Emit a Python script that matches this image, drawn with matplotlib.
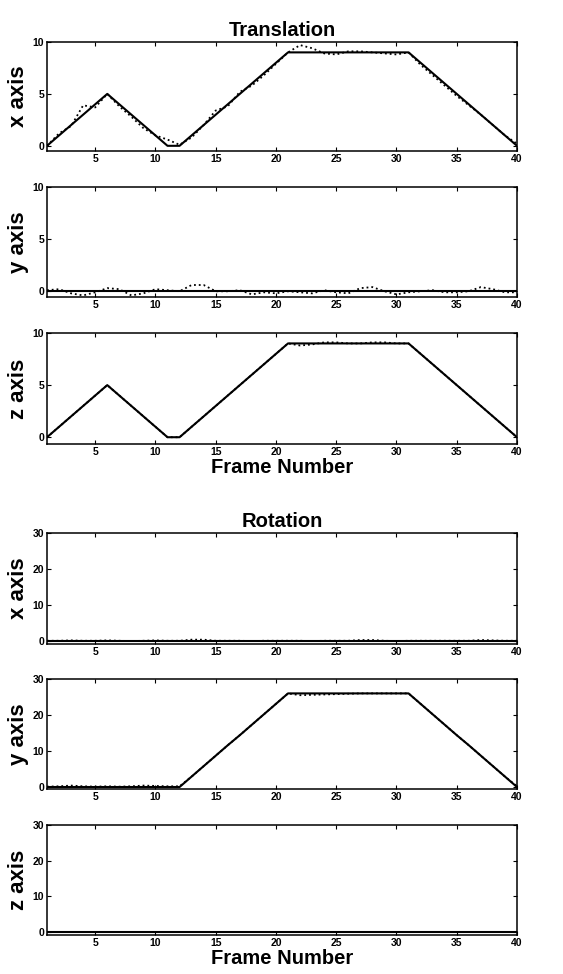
import matplotlib.pyplot as plt

plt.rcParams["font.family"] = ["Liberation Sans", "DejaVu Sans"]
plt.rcParams["font.weight"] = "bold"

# ---------------- data (frames 1..40) ----------------
frames = list(range(1, 41))

trans_x_true = [0, 1, 2, 3, 4, 5, 4, 3, 2, 1, 0, 0, 1, 2, 3, 4, 5, 6, 7, 8,
                9, 9, 9, 9, 9, 9, 9, 9, 9, 9, 9, 8, 7, 6, 5, 4, 3, 2, 1, 0]
trans_x_est = [0.0, 1.2, 1.9, 3.9, 3.7, 5.0, 3.8, 2.8, 1.7, 1.0, 0.6, 0.1, 0.8, 2.0, 3.4, 3.8, 5.2, 5.8, 6.8, 7.9,
               9.0, 9.7, 9.4, 8.9, 8.8, 9.1, 9.1, 9.0, 8.9, 8.8, 9.0, 7.8, 6.8, 5.8, 4.8, 3.9, 3.0, 2.0, 1.0, 0.2]

trans_y_true = [0] * 40
trans_y_est = [0.1, 0.2, -0.2, -0.4, -0.1, 0.3, 0.2, -0.4, -0.2, 0.2, 0.1, 0.0, 0.6, 0.6, 0.0, 0.0, 0.1, -0.3, -0.1, -0.2,
               0.0, -0.1, -0.2, 0.1, -0.1, -0.2, 0.3, 0.4, 0.0, -0.3, -0.1, 0.0, 0.1, -0.1, -0.1, 0.0, 0.4, 0.2, -0.1, -0.1]

trans_z_true = [0, 1, 2, 3, 4, 5, 4, 3, 2, 1, 0, 0, 1, 2, 3, 4, 5, 6, 7, 8,
                9, 9, 9, 9, 9, 9, 9, 9, 9, 9, 9, 8, 7, 6, 5, 4, 3, 2, 1, 0]
trans_z_est = [0.0, 1.0, 2.0, 3.0, 4.0, 5.0, 4.0, 3.0, 2.0, 1.0, 0.0, 0.0, 1.0, 2.0, 3.0, 4.0, 5.0, 6.0, 7.0, 8.0,
               9.0, 8.8, 8.9, 9.1, 9.1, 9.0, 9.0, 9.1, 9.1, 9.0, 9.0, 8.0, 7.0, 6.0, 5.0, 4.0, 3.0, 2.0, 1.0, 0.0]

rot_x_true = [0] * 40
rot_x_est = [0.1, 0.1, 0.2, 0.1, 0.1, 0.2, 0.1, 0.0, 0.1, 0.2, 0.1, 0.1, 0.4, 0.4, 0.1, 0.1, 0.1, 0.0, 0.1, 0.1,
             0.1, 0.1, 0.0, 0.1, 0.1, 0.1, 0.3, 0.3, 0.1, 0.0, 0.1, 0.1, 0.1, 0.1, 0.1, 0.1, 0.3, 0.2, 0.1, 0.1]

rot_y_true = [0, 0, 0, 0, 0, 0, 0, 0, 0, 0, 0, 0, 2.9, 5.8, 8.7, 11.6, 14.4, 17.3, 20.2, 23.1,
              26, 26, 26, 26, 26, 26, 26, 26, 26, 26, 26, 23.1, 20.2, 17.3, 14.4, 11.6, 8.7, 5.8, 2.9, 0]
rot_y_est = [0.1, 0.2, 0.4, 0.2, 0.1, 0.2, 0.1, 0.2, 0.4, 0.3, 0.2, 0.2, 2.9, 5.8, 8.7, 11.6, 14.4, 17.3, 20.2, 23.1,
             26.0, 25.5, 25.6, 25.7, 25.8, 25.9, 26.0, 26.0, 26.0, 26.0, 26.0, 23.1, 20.2, 17.3, 14.4, 11.6, 8.7, 5.8, 2.9, 0.2]

rot_z_true = [0] * 40
rot_z_est = [0.1, 0.1, 0.1, 0.1, 0.1, 0.1, 0.1, 0.1, 0.1, 0.1, 0.1, 0.1, 0.1, 0.1, 0.1, 0.1, 0.1, 0.1, 0.1, 0.1,
             0.1, 0.1, 0.1, 0.1, 0.1, 0.1, 0.1, 0.1, 0.1, 0.1, 0.1, 0.1, 0.1, 0.1, 0.1, 0.1, 0.1, 0.1, 0.1, 0.1]

panels = [
    ("x axis", trans_x_true, trans_x_est, (-0.5, 10), [0, 5, 10]),
    ("y axis", trans_y_true, trans_y_est, (-0.55, 10), [0, 5, 10]),
    ("z axis", trans_z_true, trans_z_est, (-0.65, 10), [0, 5, 10]),
    ("x axis", rot_x_true, rot_x_est, (-0.8, 30), [0, 10, 20, 30]),
    ("y axis", rot_y_true, rot_y_est, (-0.55, 30), [0, 10, 20, 30]),
    ("z axis", rot_z_true, rot_z_est, (-0.8, 30), [0, 10, 20, 30]),
]

W, H = 563, 974
boxes = [(42, 151), (187, 297), (333, 444), (533, 644), (679, 789), (825, 935)]
left, right = 47, 517

fig = plt.figure(figsize=(W / 100, H / 100), dpi=100)

for i, (label, true, est, ylim, yt) in enumerate(panels):
    top, bot = boxes[i]
    ax = fig.add_axes([left / W, 1 - bot / H, (right - left) / W, (bot - top) / H])
    ax.plot(frames, true, color="black", lw=1.5)
    ax.plot(frames, est, color="black", lw=1.3, ls=":")
    ax.set_xlim(1, 40)
    ax.set_ylim(*ylim)
    ax.set_xticks([5, 10, 15, 20, 25, 30, 35, 40])
    ax.set_yticks(yt)
    ax.tick_params(direction="in", top=True, right=True, length=3, width=0.8,
                   labelsize=7.5, pad=2)
    for lab in ax.get_xticklabels() + ax.get_yticklabels():
        lab.set_fontweight("bold")
    for s in ax.spines.values():
        s.set_linewidth(1.1)
    ax.set_ylabel(label, fontsize=16, fontweight="bold", labelpad=3)
    if i == 0:
        ax.set_title("Translation", fontsize=14.5, fontweight="bold", pad=4)
    if i == 3:
        ax.set_title("Rotation", fontsize=14.5, fontweight="bold", pad=4)
    if i in (2, 5):
        ax.set_xlabel("Frame Number", fontsize=14.5, fontweight="bold", labelpad=1)

fig.savefig("out.png", dpi=100)
